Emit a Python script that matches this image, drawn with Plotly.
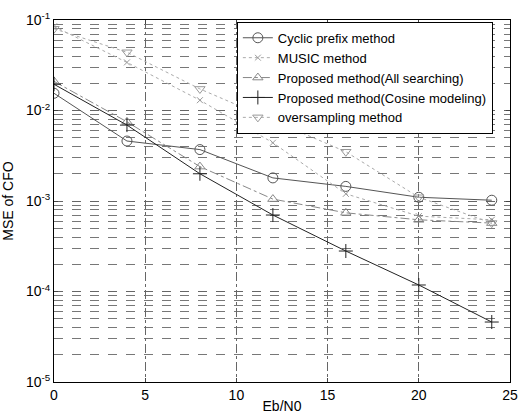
import plotly.graph_objects as go

ebn0 = [0, 4, 8, 12, 16, 20, 24]
cyclic_prefix = [0.0155, 0.0046, 0.0037, 0.0018, 0.00145, 0.0011, 0.00102]
music = [0.085, 0.034, 0.013, 0.0044, 0.0012, 0.00068, 0.00062]
all_searching = [0.021, 0.0075, 0.0024, 0.00105, 0.00074, 0.00062, 0.00057]
cosine_modeling = [0.0195, 0.0069, 0.0020, 0.00070, 0.00028, 0.000118, 0.000046]
oversampling = [0.08, 0.044, 0.0173, 0.0078, 0.0035, 0.0011, 0.00057]

names = ["Cyclic prefix method", "MUSIC method", "Proposed method(All searching)",
         "Proposed method(Cosine modeling)", "oversampling method"]

y_tick_vals = [1e-5, 1e-4, 1e-3, 1e-2, 1e-1]
y_tick_text = ["10<sup>-5</sup>", "10<sup>-4</sup>", "10<sup>-3</sup>", "10<sup>-2</sup>", "10<sup>-1</sup>"]
x_tick_vals = [0, 5, 10, 15, 20, 25]

FONT = "Liberation Sans, Arial, sans-serif"

fig = go.Figure()
styles = [
    (cyclic_prefix, dict(color="#555555", width=1, dash="solid"), dict(symbol="circle-open", size=10, color="#555555")),
    (music, dict(color="#aaaaaa", width=1, dash="dot"), dict(symbol="x-thin-open", size=6, color="#999999", line=dict(width=1, color="#999999"))),
    (all_searching, dict(color="#888888", width=1, dash="dashdot"), dict(symbol="triangle-up-open", size=9, color="#888888")),
    (cosine_modeling, dict(color="#222222", width=1, dash="solid"), dict(symbol="cross-thin-open", size=10, color="#222222", line=dict(width=1, color="#222222"))),
    (oversampling, dict(color="#aaaaaa", width=1, dash="dot"), dict(symbol="triangle-down-open", size=9, color="#999999")),
]
for name, (vals, line, marker) in zip(names, styles):
    fig.add_trace(go.Scatter(x=ebn0, y=vals, name=name, mode="lines+markers",
                             line=line, marker=marker))

fig.update_layout(
    width=520, height=414,
    margin=dict(l=54, r=10, t=20, b=32, autoexpand=False),
    paper_bgcolor="white", plot_bgcolor="white",
    font=dict(family=FONT, size=12, color="black"),
    legend=dict(x=0.401, y=0.995, xanchor="left", yanchor="top",
                bgcolor="white", bordercolor="black", borderwidth=1,
                font=dict(size=13, family=FONT), tracegroupgap=0,
                itemwidth=30),
    showlegend=True,
)
fig.update_xaxes(range=[0, 25], tickvals=x_tick_vals, ticks="inside", ticklen=4,
                 showline=True, linecolor="black", linewidth=1, mirror="ticks",
                 showgrid=True, gridcolor="#666666", griddash="dashdot", gridwidth=1,
                 zeroline=False, tickfont=dict(size=14), automargin=False,
                 title=dict(text="Eb/N0", font=dict(size=14), standoff=5))
fig.update_yaxes(type="log", range=[-5, -1], tickvals=y_tick_vals, ticktext=y_tick_text,
                 ticks="inside", ticklen=4,
                 showline=True, linecolor="black", linewidth=1, mirror="ticks",
                 showgrid=True, gridcolor="#666666", griddash="dash", gridwidth=1,
                 minor=dict(dtick="D1", showgrid=True, gridcolor="#777777", griddash="dash", ticks=""),
                 zeroline=False, tickfont=dict(size=14), automargin=False,
                 title=dict(text="MSE of CFO", font=dict(size=14), standoff=12))

fig.write_html("out.html", config={"displayModeBar": False},
               post_script="document.body.style.margin='0';document.body.style.overflow='hidden';")
